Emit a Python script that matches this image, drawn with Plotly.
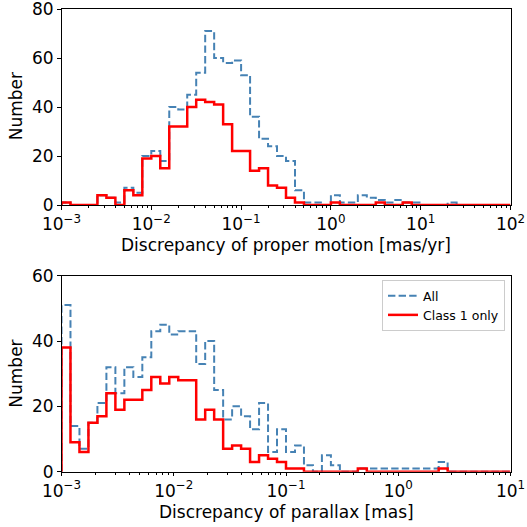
import numpy as np
import plotly.graph_objects as go

# Histogram counts per logarithmic bin (50 bins each)
pm_all = [1, 0, 0, 0, 4, 3, 1, 7, 5, 20, 22, 18, 40, 39, 45, 54, 71, 60, 58, 59,
          53, 36, 27, 24, 20, 18, 6, 1, 1, 0, 4, 1, 1, 4, 3, 2, 1, 2, 1, 1,
          0, 0, 0, 1, 0, 0, 0, 0, 0, 0]
pm_class1 = [1, 0, 0, 0, 4, 3, 0, 6, 4, 19, 20, 15, 32, 32, 40, 43, 42, 41, 33, 22,
             22, 14, 15, 8, 7, 3, 1, 0, 0, 0, 1, 0, 0, 0, 0, 1, 0, 0, 1, 0,
             0, 0, 0, 0, 0, 0, 0, 0, 0, 0]
plx_all = [51, 14, 7, 15, 21, 32, 24, 32, 29, 35, 43, 45, 42, 43, 43, 33, 40, 25, 16, 20,
           17, 13, 21, 6, 13, 6, 8, 2, 0, 5, 2, 0, 0, 1, 1, 1, 1, 1, 1, 1,
           1, 1, 3, 0, 0, 0, 0, 0, 0, 0]
plx_class1 = [38, 9, 6, 15, 17, 24, 19, 22, 22, 25, 29, 27, 29, 28, 28, 16, 19, 16, 7, 8,
              7, 3, 5, 4, 3, 1, 1, 0, 0, 0, 0, 0, 0, 1, 0, 0, 0, 0, 0, 0,
              0, 0, 1, 0, 0, 0, 0, 0, 0, 0]

pm_edges = np.logspace(-3, 2, 51)
plx_edges = np.logspace(-3, 1, 51)

pm_ticks = [1e-3, 1e-2, 1e-1, 1e0, 1e1, 1e2]
pm_ticktext = ["10<sup>−3</sup>", "10<sup>−2</sup>", "10<sup>−1</sup>",
               "10<sup>0</sup>", "10<sup>1</sup>", "10<sup>2</sup>"]
plx_ticks = [1e-3, 1e-2, 1e-1, 1e0, 1e1]
plx_ticktext = ["10<sup>−3</sup>", "10<sup>−2</sup>", "10<sup>−1</sup>",
                "10<sup>0</sup>", "10<sup>1</sup>"]

BLUE = "#4682b4"
RED = "#ff0000"
FONT = "DejaVu Sans"


def step_outline(edges, counts):
    """Outline of a step histogram, closed down to zero at both ends."""
    xs, ys = [edges[0]], [0]
    for i, c in enumerate(counts):
        xs += [edges[i], edges[i + 1]]
        ys += [c, c]
    xs.append(edges[-1])
    ys.append(0)
    return xs, ys


def minor_vals(lo, hi):
    return [k * 10.0 ** d for d in range(lo, hi) for k in range(2, 10)]


fig = go.Figure()

for edges, counts, name, color, dash, width, xa, ya, show in [
    (pm_edges, pm_all, "All", BLUE, "7.4px,3.2px", 2, "x", "y", False),
    (pm_edges, pm_class1, "Class 1 only", RED, "solid", 2.5, "x", "y", False),
    (plx_edges, plx_all, "All", BLUE, "7.4px,3.2px", 2, "x2", "y2", True),
    (plx_edges, plx_class1, "Class 1 only", RED, "solid", 2.5, "x2", "y2", True),
]:
    xs, ys = step_outline(list(edges), counts)
    fig.add_trace(go.Scatter(
        x=xs, y=ys, mode="lines", name=name, showlegend=show,
        line=dict(color=color, width=width, dash=dash),
        xaxis=xa, yaxis=ya, hoverinfo="skip",
    ))

x_dom = [61.5 / 527, 510.5 / 527]
top_dom = [(527 - 205) / 527, (527 - 9.0) / 527]
bot_dom = [(527 - 471.7) / 527, (527 - 275.7) / 527]

axis_common = dict(
    showline=True, linecolor="black", linewidth=1, mirror=True,
    ticks="outside", ticklen=3.5, tickwidth=0.8, tickcolor="black",
    showgrid=False, zeroline=False, automargin=False,
    ticklabeloverflow="allow",
    tickfont=dict(family=FONT, size=17, color="black"),
)

fig.update_layout(
    width=527, height=527,
    margin=dict(l=0, r=0, t=0, b=0, autoexpand=False),
    paper_bgcolor="white", plot_bgcolor="white",
    font=dict(family=FONT, color="black"),
    xaxis=dict(
        type="log", range=[-3, 2], domain=x_dom, anchor="y",
        tickmode="array", tickvals=pm_ticks, ticktext=pm_ticktext,
        minor=dict(ticks="outside", ticklen=2, tickwidth=0.6, tickcolor="black",
                   tickmode="array", tickvals=minor_vals(-3, 2), showgrid=False),
        **axis_common,
    ),
    yaxis=dict(
        range=[0, 80], domain=top_dom, anchor="x",
        tickmode="array", tickvals=[0, 20, 40, 60, 80],
        **axis_common,
    ),
    xaxis2=dict(
        type="log", range=[-3, 1], domain=x_dom, anchor="y2",
        tickmode="array", tickvals=plx_ticks, ticktext=plx_ticktext,
        minor=dict(ticks="outside", ticklen=2, tickwidth=0.6, tickcolor="black",
                   tickmode="array", tickvals=minor_vals(-3, 1), showgrid=False),
        **axis_common,
    ),
    yaxis2=dict(
        range=[0, 60], domain=bot_dom, anchor="x2",
        tickmode="array", tickvals=[0, 20, 40, 60],
        **axis_common,
    ),
    legend=dict(
        x=505 / 527, xanchor="right", y=(527 - 280) / 527, yanchor="top",
        bgcolor="rgba(255,255,255,0.8)", bordercolor="#cccccc", borderwidth=1,
        font=dict(family=FONT, size=12.5, color="black"),
        itemwidth=30, tracegroupgap=0,
    ),
    showlegend=True,
)

x_mid = (x_dom[0] + x_dom[1]) / 2
title_font = dict(family=FONT, size=17, color="black")
annotations = [
    dict(text="Discrepancy of proper motion [mas/yr]", x=x_mid, y=(527 - 245) / 527),
    dict(text="Discrepancy of parallax [mas]", x=x_mid, y=(527 - 511.7) / 527),
    dict(text="Number", x=16 / 527, y=(527 - 106.3) / 527, textangle=-90),
    dict(text="Number", x=16 / 527, y=(527 - 373.7) / 527, textangle=-90),
]
for a in annotations:
    fig.add_annotation(xref="paper", yref="paper", showarrow=False,
                       xanchor="center", yanchor="middle", font=title_font, **a)

fig.write_html("out.html")
